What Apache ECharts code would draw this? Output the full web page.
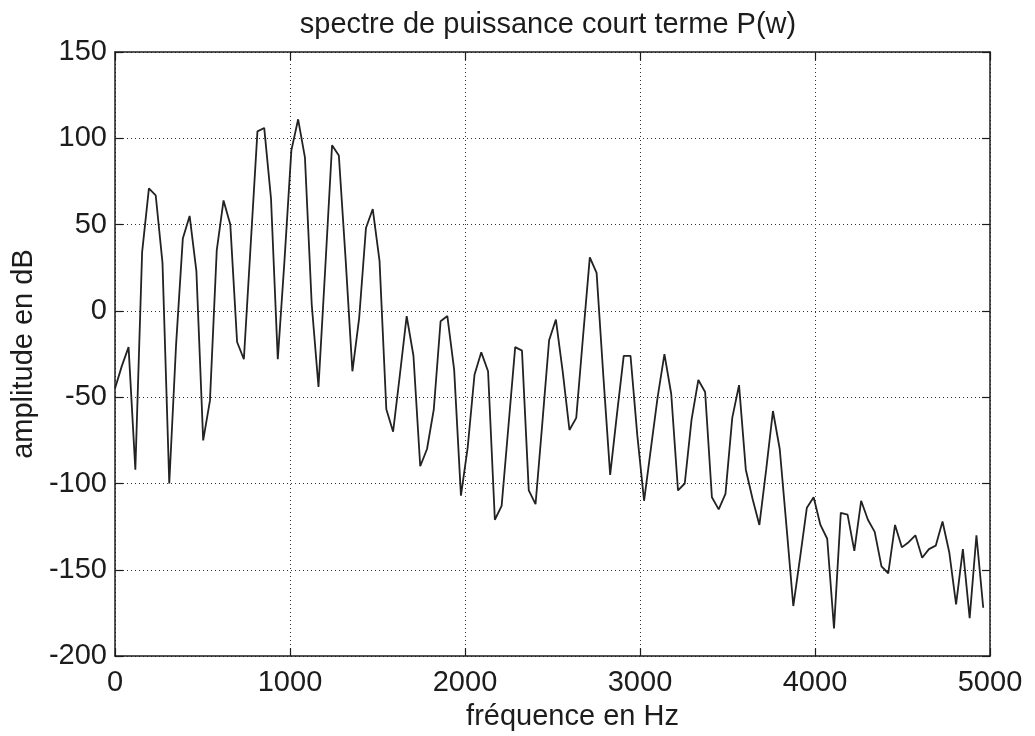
<!DOCTYPE html>
<html>
<head>
<meta charset="utf-8">
<script src="https://cdn.jsdelivr.net/npm/echarts@6/dist/echarts.min.js"></script>
<style>
html,body{margin:0;padding:0;background:#fff;}
#chart{width:1035px;height:736px;}
</style>
</head>
<body>
<div id="chart"></div>
<script>
// Frequencies (Hz) of the plotted samples
const freqs = [0,38.8,77.5,116.3,155.0,193.8,232.6,271.3,310.1,348.8,387.6,426.4,465.1,503.9,542.6,581.4,620.2,658.9,697.7,736.4,
775.2,814.0,852.7,891.5,930.2,969.0,1007.8,1046.5,1085.3,1124.0,1162.8,1201.6,1240.3,1279.1,1317.8,1356.6,1395.4,1434.1,1472.9,1511.6,
1550.4,1589.2,1627.9,1666.7,1705.4,1744.2,1783.0,1821.7,1860.5,1899.2,1938.0,1976.8,2015.5,2054.3,2093.0,2131.8,2170.6,2209.3,2248.1,2286.8,
2325.6,2364.4,2403.1,2441.9,2480.6,2519.4,2558.2,2596.9,2635.7,2674.4,2713.2,2752.0,2790.7,2829.5,2868.2,2907.0,2945.8,2984.5,3023.3,3062.0,
3100.8,3139.6,3178.3,3217.1,3255.8,3294.6,3333.4,3372.1,3410.9,3449.6,3488.4,3527.2,3565.9,3604.7,3643.4,3682.2,3721.0,3759.7,3798.5,3837.2,
3876.0,3914.8,3953.5,3992.3,4031.0,4069.8,4108.6,4147.3,4186.1,4224.8,4263.6,4302.4,4341.1,4379.9,4418.6,4457.4,4496.2,4534.9,4573.7,4612.4,
4651.2,4690.0,4728.7,4767.5,4806.2,4845.0,4883.8,4922.5,4961.3];
// Amplitude (dB)
const amplitudes = [-45,-32,-21,-92,34,71,67,28,-100,-20,42,55,23,-75,-52,35,64,50,-18,-28,
38,104,106,65,-28,30,93,111,89,4,-44,25,96,90,30,-35,-4,48,59,29,
-57,-70,-37,-3,-26,-90,-80,-57,-6,-3,-34,-107,-79,-37,-24,-35,-121,-113,-67,-21,
-23,-104,-112,-65,-17,-5,-35,-69,-62,-15,31,22,-38,-95,-60,-26,-26,-72,-110,-80,
-50,-25,-48,-104,-100,-63,-40,-47,-108,-115,-106,-62,-43,-92,-109,-124,-92,-58,-80,-125,
-171,-143,-114,-108,-124,-132,-184,-117,-118,-139,-110,-121,-128,-148,-152,-124,-137,-134,-130,-143,
-138,-136,-122,-140,-170,-138,-178,-130,-172];
const xTicks = [0,1000,2000,3000,4000,5000];
const yTicks = [-200,-150,-100,-50,0,50,100,150];

const titleText = 'spectre de puissance court terme P(w)';
const xName = 'fréquence en Hz';
const yName = 'amplitude en dB';

const points = freqs.map((f, i) => [f, amplitudes[i]]);
const FONT = '"Liberation Sans", Arial, sans-serif';
const ink = '#1c1c1c';

const chart = echarts.init(document.getElementById('chart'), null, {renderer: 'canvas'});
const gridLine = {show: true, lineStyle: {color: '#333', width: 1, type: [1, 3]}};
const plain = v => String(v);
chart.setOption({
  backgroundColor: '#ffffff',
  animation: false,
  title: {
    text: titleText,
    left: 543, top: 5, textAlign: 'center',
    textStyle: {fontFamily: FONT, fontSize: 29, fontWeight: 'normal', color: ink}
  },
  grid: {left: 115, right: 45, top: 52, bottom: 72, containLabel: false},
  xAxis: [{
    type: 'value', min: xTicks[0], max: xTicks[xTicks.length-1], interval: 1000,
    position: 'bottom',
    name: xName, nameLocation: 'middle', nameGap: 38,
    nameTextStyle: {fontFamily: FONT, fontSize: 29, color: ink, padding: [0, 0, 0, 40]},
    axisLine: {show: true, onZero: false, lineStyle: {color: ink, width: 1.5}},
    axisTick: {show: true, inside: true, length: 8, lineStyle: {color: ink, width: 1.2}},
    axisLabel: {margin: 12, fontFamily: FONT, fontSize: 29, color: ink, formatter: plain},
    splitLine: gridLine
  }, {
    type: 'value', min: xTicks[0], max: xTicks[xTicks.length-1], interval: 1000,
    position: 'top',
    axisLine: {show: true, onZero: false, lineStyle: {color: ink, width: 1.5}},
    axisTick: {show: true, inside: true, length: 8, lineStyle: {color: ink, width: 1.2}},
    axisLabel: {show: false}, splitLine: {show: false}
  }],
  yAxis: [{
    type: 'value', min: yTicks[0], max: yTicks[yTicks.length-1], interval: 50,
    position: 'left',
    name: yName, nameLocation: 'middle', nameGap: 70,
    nameTextStyle: {fontFamily: FONT, fontSize: 29, color: ink},
    axisLine: {show: true, onZero: false, lineStyle: {color: ink, width: 1.5}},
    axisTick: {show: true, inside: true, length: 8, lineStyle: {color: ink, width: 1.2}},
    axisLabel: {margin: 8, fontFamily: FONT, fontSize: 29, color: ink, formatter: plain},
    splitLine: gridLine
  }, {
    type: 'value', min: yTicks[0], max: yTicks[yTicks.length-1], interval: 50,
    position: 'right',
    axisLine: {show: true, onZero: false, lineStyle: {color: ink, width: 1.5}},
    axisTick: {show: true, inside: true, length: 8, lineStyle: {color: ink, width: 1.2}},
    axisLabel: {show: false}, splitLine: {show: false}
  }],
  series: [{
    type: 'line', xAxisIndex: 0, yAxisIndex: 0,
    data: points, showSymbol: false, symbol: 'none',
    lineStyle: {color: '#222', width: 1.8},
    z: 5
  }]
});
</script>
</body>
</html>
